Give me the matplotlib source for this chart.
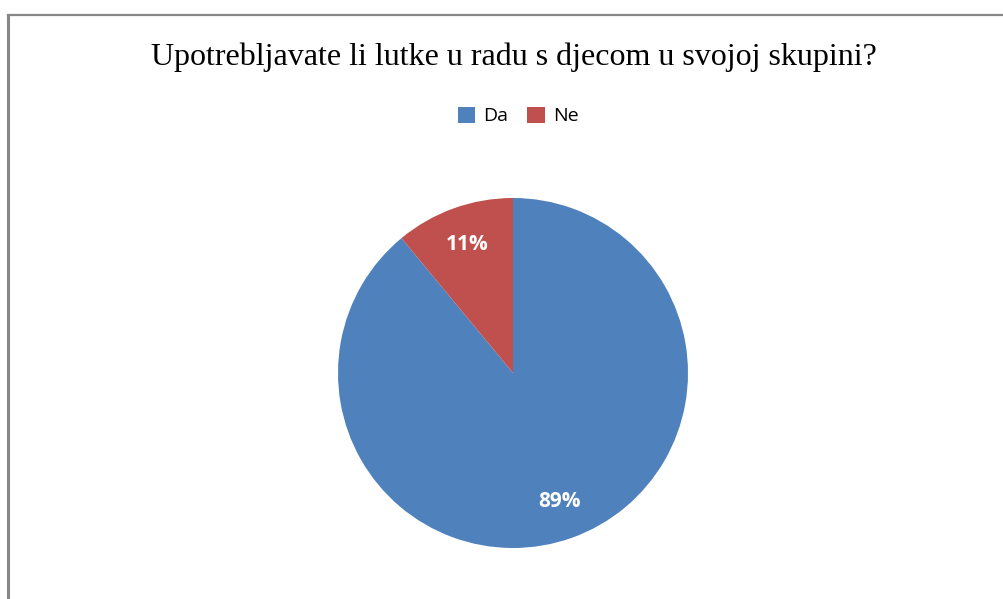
import matplotlib.pyplot as plt
from matplotlib.lines import Line2D

TITLE = "Upotrebljavate li lutke u radu s djecom u svojoj skupini?"
categories = ["Da", "Ne"]
values = [89, 11]
colors = ["#4F81BD", "#C0504D"]

W, H = 1004, 599
fig = plt.figure(figsize=(W / 100, H / 100), dpi=100)

# chart area border (only left and top edges are visible in the crop)
fig.add_artist(Line2D([8.5 / W, 8.5 / W], [0, (H - 15) / H], color="#878787", lw=2.2))
fig.add_artist(Line2D([8.5 / W, 1], [(H - 15) / H, (H - 15) / H], color="#878787", lw=1.6))

fig.text(514 / W, 1 - 57 / H, TITLE, ha="center", va="center",
         family="Liberation Serif", fontsize=23)

cx, cy, r = 513, H - 373, 175
ax = fig.add_axes([(cx - r) / W, (cy - r) / H, 2 * r / W, 2 * r / H])
wedges, texts, autotexts = ax.pie(
    values,
    colors=colors,
    startangle=90,
    counterclock=False,
    autopct="%d%%",
    pctdistance=0.78,
    radius=1.0,
    textprops={"color": "white", "fontsize": 15, "fontweight": "bold",
               "family": "Open Sans"},
)
ax.set_xlim(-1, 1)
ax.set_ylim(-1, 1)
ax.set_aspect("equal")
ax.axis("off")

leg = fig.legend(wedges, categories, loc="center", bbox_to_anchor=(518 / W, 1 - 116 / H),
                 ncol=2, frameon=False, handlelength=0.9, handleheight=0.9,
                 handletextpad=0.4, columnspacing=1.0,
                 prop={"family": "Open Sans", "size": 14})

fig.savefig("out.png", dpi=100)
